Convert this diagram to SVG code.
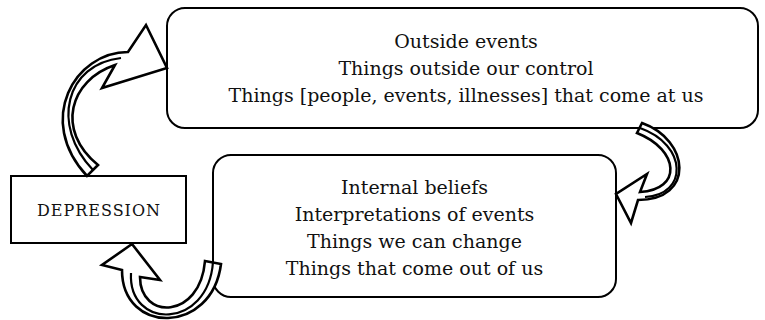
<svg xmlns="http://www.w3.org/2000/svg" width="765" height="320" viewBox="0 0 765 320">
<style>
.box{fill:#fff;stroke:#000;stroke-width:2}
.arr{fill:#fff;stroke:#000;stroke-width:2.6;stroke-linejoin:miter}
.tw{fill:none;stroke:#000;stroke-width:2.2}
text{font-family:"DejaVu Serif","Liberation Serif",serif;fill:#111;text-anchor:middle}
.t{font-size:19px}
.d{font-size:16px;letter-spacing:1px}
</style>
<rect width="765" height="320" fill="#fff"/>
<g id="outside">
<rect class="box" x="167" y="8" width="591" height="120" rx="18"/>
<text class="t" x="466" y="48">Outside events</text>
<text class="t" x="466" y="75">Things outside our control</text>
<text class="t" x="466" y="102">Things [people, events, illnesses] that come at us</text>
</g>
<g id="internal">
<rect class="box" x="213" y="155" width="403" height="142" rx="18"/>
<text class="t" x="414.5" y="194">Internal beliefs</text>
<text class="t" x="414.5" y="221">Interpretations of events</text>
<text class="t" x="414.5" y="248">Things we can change</text>
<text class="t" x="414.5" y="275">Things that come out of us</text>
</g>
<g id="depression">
<rect class="box" x="11" y="176" width="175" height="67"/>
<text class="d" x="99" y="216">DEPRESSION</text>
</g>
<g id="connectors">
<path class="arr" d="M87,176 C 35,120 75,52 128,52 L146,25 L167,68 L102,88 L115,65 C 70,80 55,130 98,165 Z"/>
<path class="tw" d="M93,170 C 50,125 66,64 121,58"/>
<path class="arr" d="M642,123 C 690,140 695,200 638,200 L631,223 L616,194 L647,174 L640,192 C 682,190 680,150 637,133 Z"/>
<path class="tw" d="M640,128 C 688,145 688,195 645,197"/>
<path class="arr" d="M132,244 L102,265 L122,270 C 122,335 212,335 221,264 L205,261 C 200,320 140,320 140,277 L160,280 Z"/>
<path class="tw" d="M213,262 C 208,330 128,330 131,273"/>
</g>
</svg>
